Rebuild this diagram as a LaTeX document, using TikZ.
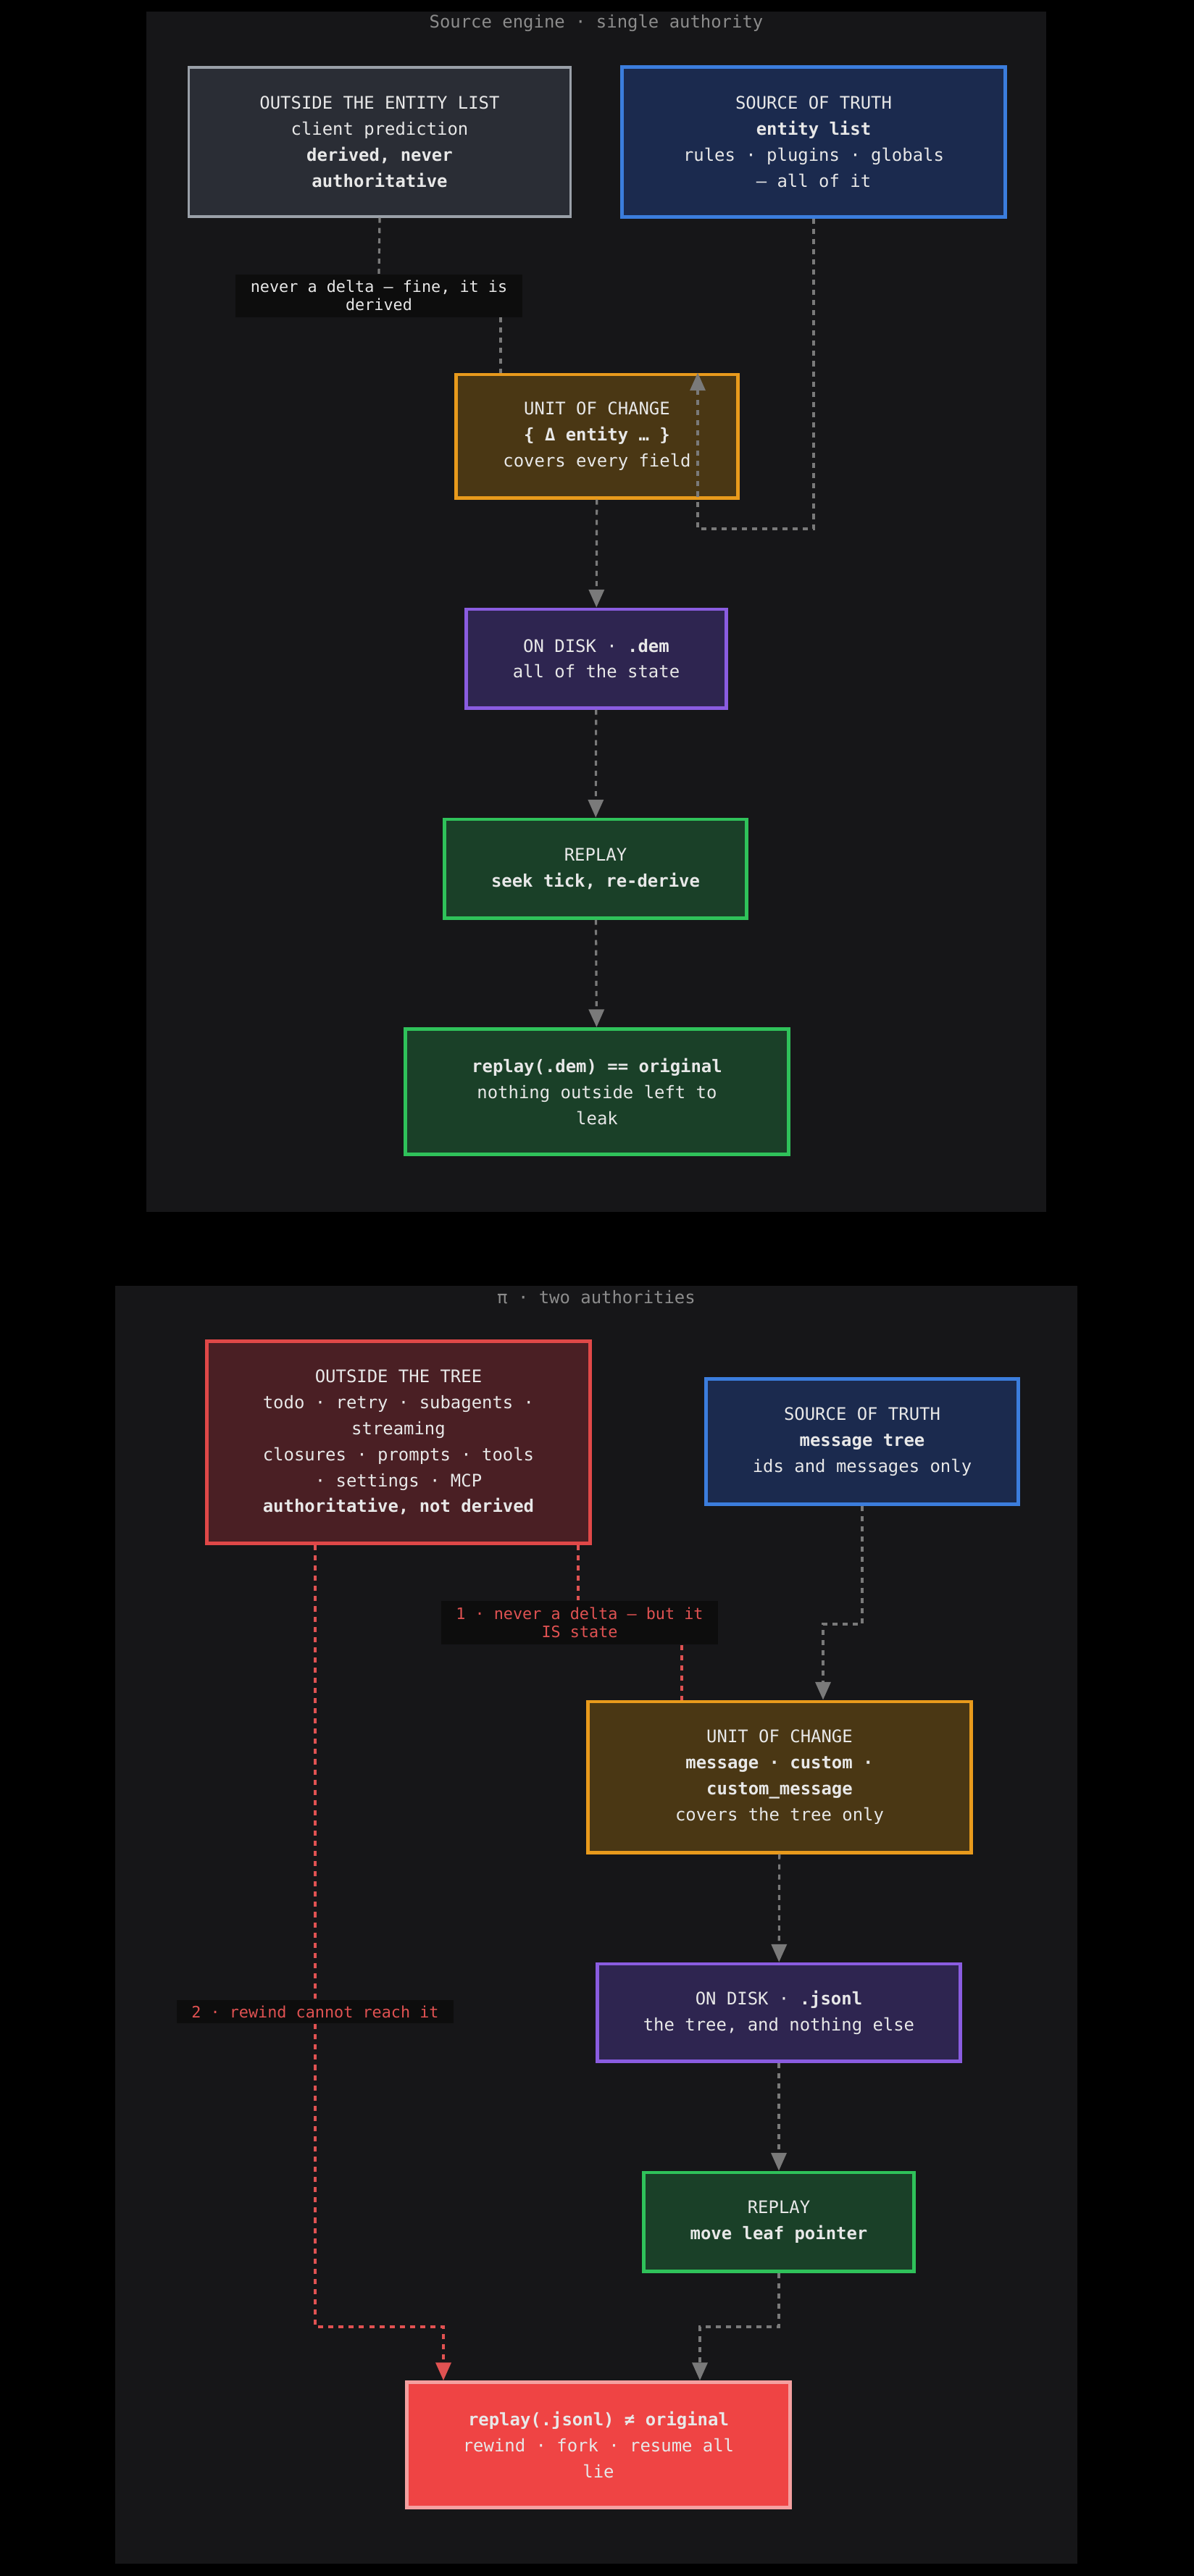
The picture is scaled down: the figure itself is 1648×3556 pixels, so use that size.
\documentclass[tikz,border=0pt]{standalone}
\usepackage{fontspec}
\setmonofont{DejaVu Sans Mono}
\usepackage{xcolor}
\usetikzlibrary{arrows.meta, positioning}

\definecolor{panelbg}{HTML}{161618}
\definecolor{boxtext}{HTML}{E8E8E8}
\definecolor{linkgray}{HTML}{7A7A7A}
\definecolor{linkred}{HTML}{E05252}

\begin{document}
\begin{tikzpicture}[
    x=0.01cm, y=-0.01cm,
    font=\ttfamily\fontsize{6.8}{10.2}\selectfont,
    block/.style={rectangle, draw, line width=1.4pt, inner sep=0pt, align=center, text=boxtext},
    note/.style={rectangle, fill=black!95, inner sep=0pt, align=center, text=boxtext, font=\ttfamily\fontsize{6.2}{7.2}\selectfont},
    title/.style={text=black!45!white, font=\ttfamily\fontsize{6.8}{8}\selectfont},
    link/.style={draw=linkgray, line width=0.9pt, dash pattern=on 2pt off 2pt},
    redlink/.style={draw=linkred, line width=0.9pt, dash pattern=on 2pt off 2pt},
    arrow/.style={-{Triangle[length=7pt, width=6pt]}}
]
\useasboundingbox[fill=black] (0,0) rectangle (1648,3556);

% Panel 1: single authority
\fill[panelbg] (202,16) rectangle (1444,1673);
\node[title] (t1) at (823,32) {Source engine · single authority};

\node[block, fill={rgb,255:red,42;green,45;blue,53}, draw={rgb,255:red,154;green,160;blue,168}, line width=0.9pt,
      minimum width=5.26cm, minimum height=2.06cm] (outside) at (524,196)
      {OUTSIDE THE ENTITY LIST\\client prediction\\\textbf{derived, never}\\\textbf{authoritative}};
\node[block, fill={rgb,255:red,27;green,42;blue,78}, draw={rgb,255:red,59;green,125;blue,221},
      minimum width=5.28cm, minimum height=2.06cm] (truth) at (1123,196)
      {SOURCE OF TRUTH\\\textbf{entity list}\\rules · plugins · globals\\— all of it};
\node[note, minimum width=3.95cm, minimum height=0.59cm] (derived) at (523,408)
      {never a delta — fine, it is\\derived};
\node[block, fill={rgb,255:red,74;green,55;blue,20}, draw={rgb,255:red,232;green,154;blue,28},
      minimum width=3.88cm, minimum height=1.70cm] (unit) at (824,602)
      {UNIT OF CHANGE\\\textbf{\{ Δ entity … \}}\\covers every field};
\node[block, fill={rgb,255:red,46;green,37;blue,80}, draw={rgb,255:red,138;green,92;blue,224},
      minimum width=3.58cm, minimum height=1.36cm] (dem) at (823,909)
      {ON DISK · \textbf{.dem}\\all of the state};
\node[block, fill={rgb,255:red,26;green,64;blue,40}, draw={rgb,255:red,47;green,194;blue,90},
      minimum width=4.17cm, minimum height=1.36cm] (replay) at (822,1199)
      {REPLAY\\\textbf{seek tick, re-derive}};
\node[block, fill={rgb,255:red,26;green,64;blue,40}, draw={rgb,255:red,47;green,194;blue,90},
      minimum width=5.28cm, minimum height=1.73cm] (same) at (824,1507)
      {\textbf{replay(.dem) == original}\\nothing outside left to\\leak};

\coordinate (d1) at (691,0);
\coordinate (bend1) at (963,730);
\draw[link] (outside.south) -- (derived.north);
\draw[link] (derived.south -| d1) -- (unit.north -| d1);
\draw[link, arrow] (truth.south) |- (bend1) -- (unit.north -| bend1);
\draw[link, arrow] (unit) -- (dem);
\draw[link, arrow] (dem) -- (replay);
\draw[link, arrow] (replay) -- (same);

% Panel 2: two authorities
\fill[panelbg] (159,1775) rectangle (1487,3539);
\node[title] (t2) at (823,1791) {π · two authorities};

\node[block, fill={rgb,255:red,74;green,31;blue,36}, draw={rgb,255:red,224;green,72;blue,72},
      minimum width=5.28cm, minimum height=2.79cm] (tree) at (550,1991)
      {OUTSIDE THE TREE\\todo · retry · subagents ·\\streaming\\closures · prompts · tools\\· settings · MCP\\\textbf{authoritative, not derived}};
\node[block, fill={rgb,255:red,27;green,42;blue,78}, draw={rgb,255:red,59;green,125;blue,221},
      minimum width=4.31cm, minimum height=1.73cm] (msgs) at (1190,1990)
      {SOURCE OF TRUTH\\\textbf{message tree}\\ids and messages only};
\node[note, text=linkred, minimum width=3.81cm, minimum height=0.60cm] (isstate) at (800,2240)
      {1 · never a delta — but it\\IS state};
\node[block, fill={rgb,255:red,74;green,55;blue,20}, draw={rgb,255:red,232;green,154;blue,28},
      minimum width=5.28cm, minimum height=2.08cm] (entry) at (1076,2453)
      {UNIT OF CHANGE\\\textbf{message · custom ·}\\\textbf{custom\_message}\\covers the tree only};
\node[block, fill={rgb,255:red,46;green,37;blue,80}, draw={rgb,255:red,138;green,92;blue,224},
      minimum width=5.01cm, minimum height=1.34cm] (jsonl) at (1075,2778)
      {ON DISK · \textbf{.jsonl}\\the tree, and nothing else};
\node[block, fill={rgb,255:red,26;green,64;blue,40}, draw={rgb,255:red,47;green,194;blue,90},
      minimum width=3.72cm, minimum height=1.36cm] (leaf) at (1075,3067)
      {REPLAY\\\textbf{move leaf pointer}};
\node[block, fill={rgb,255:red,239;green,68;blue,68}, draw={rgb,255:red,244;green,160;blue,160},
      minimum width=5.28cm, minimum height=1.73cm] (lie) at (826,3375)
      {\textbf{replay(.jsonl) ≠ original}\\rewind · fork · resume all\\lie};

\coordinate (r1) at (798,0);
\coordinate (r2) at (941,0);
\coordinate (rb) at (435,3212);
\coordinate (rt) at (612,3212);
\coordinate (bend2) at (1136,2242);
\coordinate (bend3) at (966,3212);
\draw[redlink] (tree.south -| r1) -- (isstate.north -| r1);
\draw[redlink] (isstate.south -| r2) -- (entry.north -| r2);
\draw[redlink, arrow] (tree.south -| rb) -- (rb) -- (rt) -- (lie.north -| rt);
\draw[link, arrow] (msgs.south) |- (bend2) -- (entry.north -| bend2);
\draw[link, arrow] (entry) -- (jsonl);
\draw[link, arrow] (jsonl) -- (leaf);
\draw[link, arrow] (leaf.south) |- (bend3) -- (lie.north -| bend3);

\node[note, text=linkred, minimum width=3.81cm, minimum height=0.32cm] (unreach) at (435,2777)
      {2 · rewind cannot reach it};

\end{tikzpicture}
\end{document}
